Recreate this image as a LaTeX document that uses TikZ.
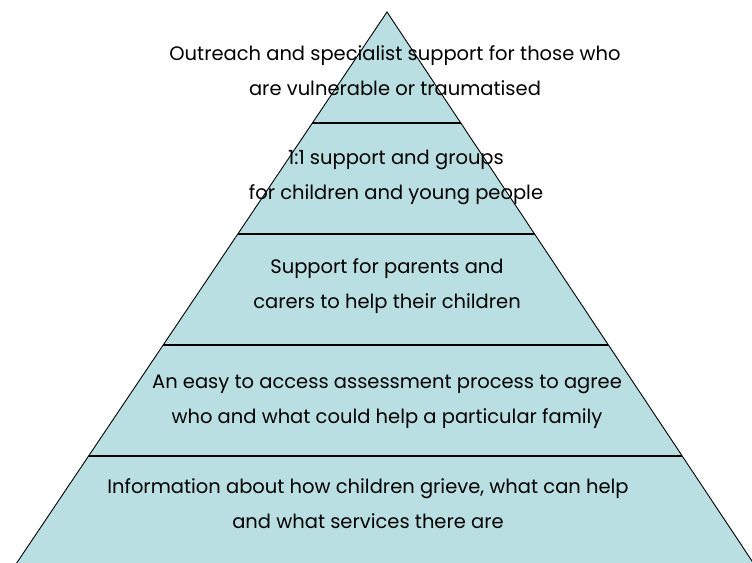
\documentclass[tikz,border=0pt]{standalone}
\usepackage{fontspec}
\setmainfont{Poppins}
\usetikzlibrary{calc}
\definecolor{tierfill}{RGB}{185,223,226}
\tikzset{
  tierline/.style={draw=black, line width=1.1pt},
  tiertext/.style={align=center, font=\fontsize{19.5}{35}\selectfont, inner sep=0pt},
}
\begin{document}
\begin{tikzpicture}[x=1pt, y=-1pt]
\useasboundingbox (0,0) rectangle (752,562);
% outline of the pyramid
\coordinate (apex) at (387,12);
\coordinate (bl) at (14,567);
\coordinate (br) at (756,567);
\fill[tierfill] (apex) -- (bl) -- (br) -- cycle;
\draw[line width=0.9pt] (bl) -- (apex) -- (br);
% tier dividers
\foreach \k in {0.2,0.4,0.6,0.8}
  \draw[tierline] ($(apex)!\k!(bl)$) -- ($(apex)!\k!(br)$);
% tier labels
\node[tiertext] (t1) at (395,71) {Outreach and specialist support for those who\\are vulnerable or traumatised};
\node[tiertext] (t2) at (396,177) {1:1 support and groups\\for children and young people};
\node[tiertext] (t3) at (387,286) {Support for parents and\\carers to help their children};
\node[tiertext] (t4) at (387,402) {An easy to access assessment process to agree\\who and what could help a particular family};
\node[tiertext] (t5) at (368,504) {Information about how children grieve, what can help\\and what services there are};
\end{tikzpicture}
\end{document}
